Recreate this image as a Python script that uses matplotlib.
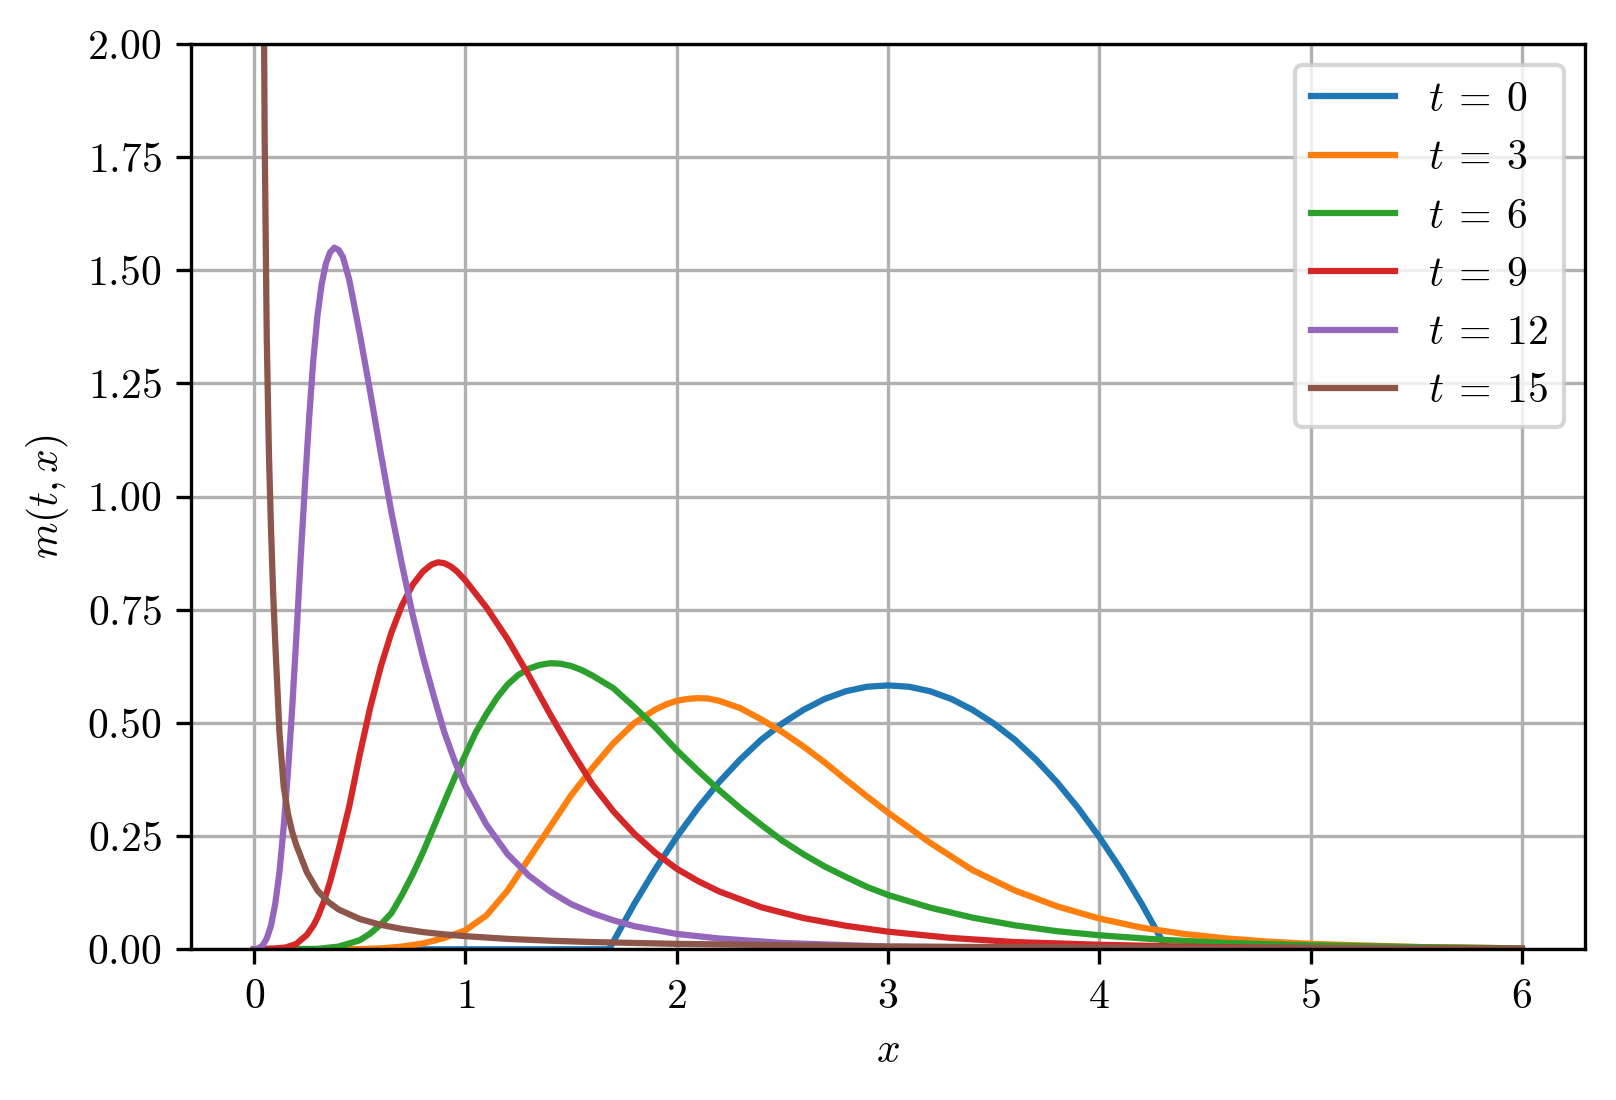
import matplotlib
matplotlib.use("Agg")
import matplotlib.pyplot as plt

plt.rcParams['font.family'] = 'serif'
plt.rcParams['font.serif'] = ['cmr10', 'DejaVu Serif']
plt.rcParams['mathtext.fontset'] = 'cm'
plt.rcParams['axes.formatter.use_mathtext'] = True
plt.rcParams['font.size'] = 10

labels = [r'$t\:=\:0$', r'$t\:=\:3$', r'$t\:=\:6$', r'$t\:=\:9$', r'$t\:=\:12$', r'$t\:=\:15$']

x_t0 = [0.0, 1.0, 1.68, 1.8, 1.9, 2.0, 2.1, 2.2, 2.3, 2.4, 2.5, 2.6, 2.7, 2.8, 2.9, 3.0,
        3.1, 3.2, 3.3, 3.4, 3.5, 3.6, 3.7, 3.8, 3.9, 4.0, 4.1, 4.2, 4.32, 5.0, 6.0]
y_t0 = [0.0, 0.0, 0.0, 0.101, 0.178, 0.248, 0.312, 0.369, 0.419, 0.463, 0.499, 0.529, 0.553, 0.570, 0.580, 0.583,
        0.580, 0.570, 0.553, 0.529, 0.499, 0.463, 0.419, 0.369, 0.312, 0.248, 0.178, 0.101, 0.0, 0.0, 0.0]

x_t3 = [0.0, 0.5, 0.6, 0.7, 0.8, 0.9, 1.0, 1.1, 1.2, 1.3, 1.4, 1.5, 1.6, 1.7, 1.8, 1.9, 1.95, 2.0, 2.05,
        2.1, 2.15, 2.2, 2.3, 2.4, 2.5, 2.6, 2.7, 2.8, 2.9, 3.0, 3.2, 3.4, 3.6, 3.8, 4.0, 4.2, 4.4, 4.6,
        4.8, 5.0, 5.5, 6.0]
y_t3 = [0.0, 0.0005, 0.002, 0.006, 0.013, 0.025, 0.042, 0.075, 0.13, 0.20, 0.27, 0.34, 0.40, 0.455, 0.50,
        0.53, 0.541, 0.549, 0.553, 0.555, 0.554, 0.549, 0.533, 0.508, 0.48, 0.448, 0.413, 0.375, 0.338,
        0.302, 0.235, 0.175, 0.13, 0.095, 0.068, 0.048, 0.034, 0.024, 0.017, 0.012, 0.005, 0.002]

x_t6 = [0.0, 0.3, 0.4, 0.5, 0.55, 0.6, 0.65, 0.7, 0.75, 0.8, 0.85, 0.9, 0.95, 1.0, 1.05, 1.1, 1.15, 1.2,
        1.25, 1.3, 1.35, 1.4, 1.45, 1.5, 1.55, 1.6, 1.7, 1.8, 1.9, 2.0, 2.1, 2.2, 2.3, 2.4, 2.5, 2.6, 2.7,
        2.8, 2.9, 3.0, 3.2, 3.4, 3.6, 3.8, 4.0, 4.3, 4.6, 5.0, 5.5, 6.0]
y_t6 = [0.0, 0.001, 0.006, 0.02, 0.035, 0.055, 0.08, 0.12, 0.165, 0.215, 0.27, 0.325, 0.38, 0.43, 0.48,
        0.52, 0.556, 0.585, 0.606, 0.62, 0.628, 0.632, 0.631, 0.626, 0.617, 0.605, 0.577, 0.535, 0.49,
        0.44, 0.395, 0.352, 0.312, 0.275, 0.24, 0.21, 0.183, 0.16, 0.138, 0.12, 0.092, 0.07, 0.053, 0.04,
        0.031, 0.021, 0.014, 0.009, 0.005, 0.002]

x_t9 = [0.0, 0.1, 0.15, 0.2, 0.25, 0.28, 0.3, 0.33, 0.36, 0.4, 0.45, 0.5, 0.55, 0.6, 0.65, 0.7, 0.75,
        0.8, 0.84, 0.87, 0.9, 0.93, 0.96, 1.0, 1.05, 1.1, 1.15, 1.2, 1.25, 1.3, 1.4, 1.5, 1.6, 1.7, 1.8,
        1.9, 2.0, 2.1, 2.2, 2.4, 2.6, 2.8, 3.0, 3.3, 3.6, 4.0, 4.5, 5.0, 5.5, 6.0]
y_t9 = [0.0, 0.002, 0.004, 0.012, 0.032, 0.052, 0.07, 0.105, 0.15, 0.22, 0.315, 0.43, 0.535, 0.625,
        0.70, 0.76, 0.805, 0.835, 0.850, 0.855, 0.853, 0.846, 0.835, 0.815, 0.785, 0.755, 0.72, 0.685,
        0.645, 0.605, 0.52, 0.44, 0.365, 0.305, 0.255, 0.213, 0.178, 0.151, 0.128, 0.093, 0.069, 0.052,
        0.039, 0.025, 0.016, 0.010, 0.005, 0.003, 0.0015, 0.001]

x_t12 = [0.0, 0.02, 0.04, 0.06, 0.08, 0.1, 0.12, 0.14, 0.16, 0.18, 0.2, 0.22, 0.24, 0.26, 0.28, 0.3,
         0.32, 0.34, 0.36, 0.38, 0.4, 0.42, 0.45, 0.5, 0.55, 0.6, 0.65, 0.7, 0.75, 0.8, 0.85, 0.9, 0.95,
         1.0, 1.1, 1.2, 1.3, 1.4, 1.5, 1.6, 1.7, 1.8, 2.0, 2.2, 2.5, 3.0, 3.5, 4.0, 5.0, 6.0]
y_t12 = [0.0, 0.002, 0.008, 0.024, 0.052, 0.10, 0.17, 0.27, 0.39, 0.53, 0.69, 0.86, 1.02, 1.17, 1.30,
         1.40, 1.47, 1.515, 1.54, 1.55, 1.545, 1.53, 1.48, 1.36, 1.23, 1.095, 0.965, 0.85, 0.74, 0.645,
         0.56, 0.48, 0.415, 0.36, 0.275, 0.21, 0.163, 0.128, 0.10, 0.08, 0.064, 0.051, 0.034, 0.024,
         0.014, 0.006, 0.004, 0.002, 0.001, 0.0]

x_t15 = [0.02, 0.04, 0.05, 0.06, 0.07, 0.08, 0.09, 0.1, 0.12, 0.14, 0.16, 0.18, 0.2, 0.25, 0.3, 0.35,
         0.4, 0.5, 0.6, 0.7, 0.8, 0.9, 1.0, 1.2, 1.4, 1.6, 1.8, 2.0, 2.5, 3.0, 3.5, 4.0, 4.5, 5.0, 5.5, 6.0]
y_t15 = [6.0, 2.6, 1.8, 1.35, 1.1, 0.93, 0.79, 0.68, 0.48, 0.36, 0.30, 0.26, 0.23, 0.17, 0.13, 0.105,
         0.088, 0.067, 0.054, 0.045, 0.038, 0.033, 0.029, 0.023, 0.019, 0.016, 0.014, 0.012, 0.009, 0.006,
         0.005, 0.004, 0.003, 0.002, 0.0015, 0.001]

series_x = [x_t0, x_t3, x_t6, x_t9, x_t12, x_t15]
series_y = [y_t0, y_t3, y_t6, y_t9, y_t12, y_t15]

fig = plt.figure(figsize=(16.16 / 3, 11.0 / 3), dpi=300)
ax = fig.add_axes([0.118, 0.137, 0.863, 0.823])
for xs, ys, lab in zip(series_x, series_y, labels):
    ax.plot(xs, ys, label=lab, linewidth=1.5)

ax.set_xlim(-0.3, 6.3)
ax.set_ylim(0, 2)
ax.set_yticks([0, 0.25, 0.5, 0.75, 1.0, 1.25, 1.5, 1.75, 2.0])
ax.set_xlabel(r'$x$')
ax.set_ylabel(r'$m(t, x)$')
ax.grid(True)
ax.legend(loc='upper right')

fig.savefig('out.png', dpi=300)
